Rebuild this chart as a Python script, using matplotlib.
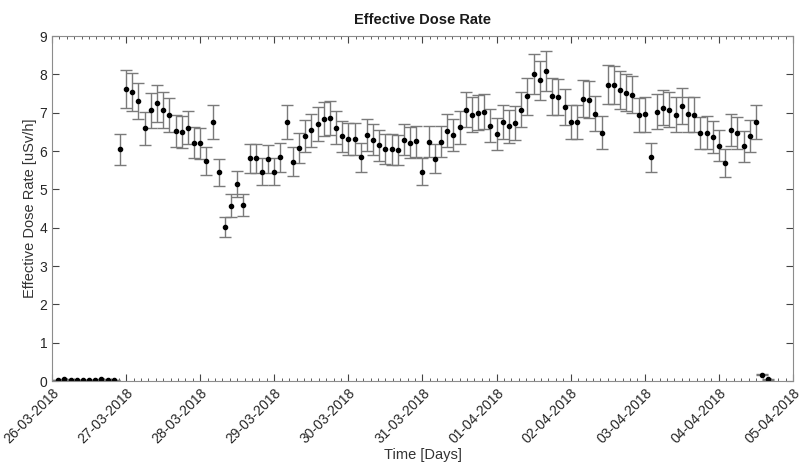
import matplotlib
matplotlib.use("Agg")
import matplotlib.pyplot as plt
import matplotlib.dates as mdates
from matplotlib.ticker import MultipleLocator
import pandas as pd

# mesures toutes les 2 heures, a partir du 26-03-2018 02:00
debut = "2018-03-26 02:00"
pas = "2h"

debit_dose = [
    0.03, 0.04, 0.03, 0.03, 0.03, 0.03, 0.03, 0.04, 0.03, 0.03,
    6.04, 7.61, 7.54, 7.30, 6.59, 7.06, 7.24, 7.07, 6.94, 6.52,
    6.50, 6.61, 6.22, 6.20, 5.74, 6.76, 5.45, 4.01, 4.57, 5.14,
    4.59, 5.81, 5.81, 5.46, 5.79, 5.46, 5.84, 6.76, 5.72, 6.07,
    6.40, 6.54, 6.70, 6.83, 6.87, 6.61, 6.38, 6.31, 6.31, 5.84,
    6.41, 6.30, 6.15, 6.05, 6.04, 6.02, 6.30, 6.22, 6.25, 5.46,
    6.24, 5.80, 6.24, 6.53, 6.43, 6.62, 7.08, 6.95, 7.00, 7.02,
    6.66, 6.45, 6.76, 6.65, 6.73, 7.08, 7.43, 8.01, 7.84, 8.09,
    7.43, 7.41, 7.15, 6.76, 6.76, 7.37, 7.34, 6.97, 6.48, 7.73,
    7.72, 7.60, 7.52, 7.47, 6.94, 6.96, 5.84, 7.02, 7.13, 7.08,
    6.95, 7.17, 6.96, 6.95, 6.47, 6.48, 6.36, 6.14, 5.68, 6.55,
    6.47, 6.12, 6.40, 6.76, 0.16, 0.04,
]
incertitude_relative = 0.065  # barres d'erreur ~6.5 % de la valeur

temps = pd.date_range(debut, periods=len(debit_dose), freq=pas)
erreurs = [v * incertitude_relative for v in debit_dose]

plt.rcParams['font.family'] = ['Liberation Sans', 'DejaVu Sans']

fig = plt.figure(figsize=(8.03, 4.66), dpi=100)
ax = fig.add_axes([0.0648, 0.1824, 0.9227, 0.7403])

ax.errorbar(temps, debit_dose, yerr=erreurs, fmt='o', color='black',
            markersize=3, ecolor='#7a7a7a', elinewidth=1, capsize=4.5,
            capthick=1)

ax.set_xlim(pd.Timestamp("2018-03-26"), pd.Timestamp("2018-04-05"))
ax.set_ylim(0, 9)
ax.yaxis.set_major_locator(MultipleLocator(1))
ax.xaxis.set_major_locator(mdates.DayLocator())
ax.xaxis.set_minor_locator(MultipleLocator(0.1))
ax.xaxis.set_major_formatter(mdates.DateFormatter('%d-%m-%Y'))

ax.tick_params(which='both', direction='in', top=True, right=True,
               colors='#444444', labelcolor='#262626', labelsize=10)
ax.tick_params(which='major', length=5)
ax.tick_params(which='minor', length=2.5)
for lab in ax.get_xticklabels():
    lab.set_rotation(45)
    lab.set_ha('right')
    lab.set_rotation_mode('anchor')

for s in ax.spines.values():
    s.set_color('#8c8c8c')

ax.set_title("Effective Dose Rate", fontsize=10.5, fontweight='bold',
             color='#1a1a1a', pad=9)
ax.set_ylabel("Effective Dose Rate [uSv/h]", fontsize=10.5, color='#333333',
              labelpad=2)
ax.set_xlabel("Time [Days]", fontsize=10.5, color='#333333', labelpad=1)

fig.savefig("out.png", dpi=100)
